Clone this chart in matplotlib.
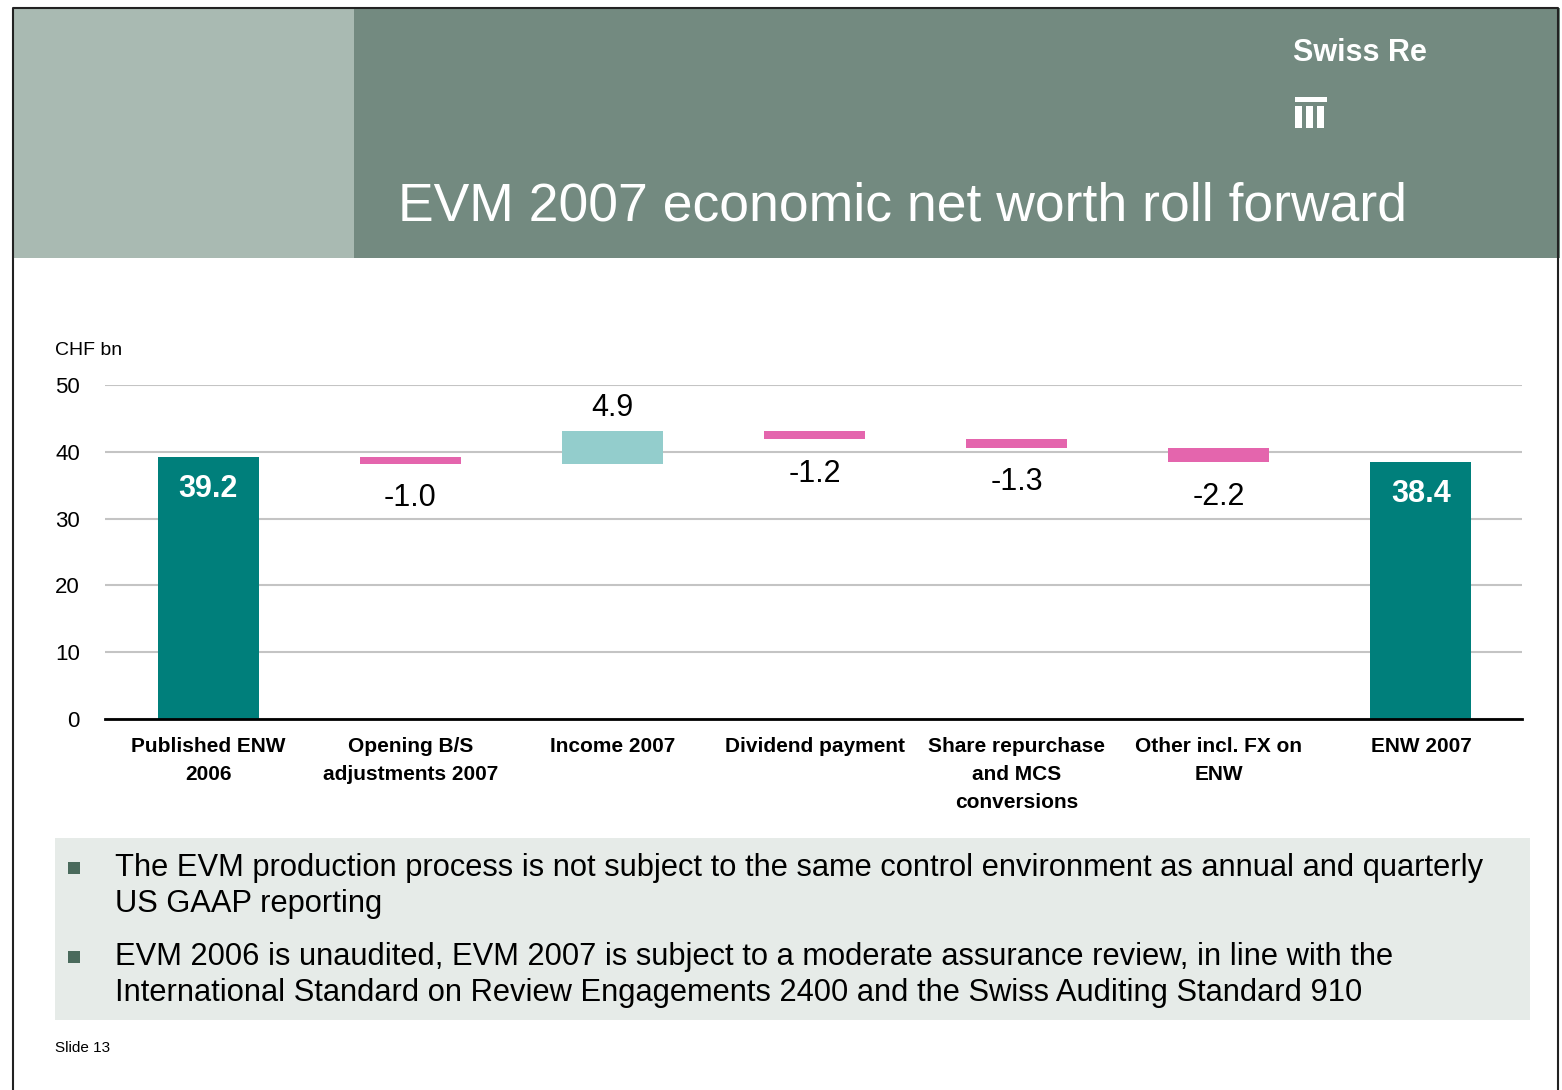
import matplotlib.pyplot as plt
from matplotlib.patches import Rectangle
import numpy as np

# data
categories = ['Published ENW\n2006', 'Opening B/S\nadjustments 2007', 'Income 2007',
              'Dividend payment', 'Share repurchase\nand MCS\nconversions',
              'Other incl. FX on\nENW', 'ENW 2007']
values = [39.2, -1.0, 4.9, -1.2, -1.3, -2.2, 38.4]
is_total = [True, False, False, False, False, False, True]
y_ticks = [0, 10, 20, 30, 40, 50]

bullets = [
    'The EVM production process is not subject to the same control environment as annual and quarterly\nUS GAAP reporting',
    'EVM 2006 is unaudited, EVM 2007 is subject to a moderate assurance review, in line with the\nInternational Standard on Review Engagements 2400 and the Swiss Auditing Standard 910',
]

TEAL = '#007f7b'
PINK = '#e465ad'
LIGHT_TEAL = '#93cdcc'
plt.rcParams['font.family'] = ['Liberation Sans', 'DejaVu Sans']

W, H = 1562, 1090
fig = plt.figure(figsize=(W / 100, H / 100), dpi=100)


def fx(px):
    return px / W


def fy(py):
    return 1 - py / H


def frect(x0, y0, x1, y1, **kw):
    # rectangle in pixel coords (top-left origin)
    fig.patches.append(Rectangle((fx(x0), fy(y1)), fx(x1) - fx(x0), fy(y0) - fy(y1),
                                 transform=fig.transFigure, **kw))


# header
frect(13, 8, 354, 258, color='#a9bab2', lw=0)
frect(354, 8, 1560, 258, color='#738a80', lw=0)
fig.lines.append(plt.Line2D([fx(13), fx(13), fx(1558), fx(1558)],
                            [fy(1090), fy(8), fy(8), fy(1090)],
                            transform=fig.transFigure, color='#222222', lw=1.5))
fig.text(fx(398), fy(206), 'EVM 2007 economic net worth roll forward', color='white',
         fontsize=38.5, va='center', ha='left')
fig.text(fx(1293), fy(53), 'Swiss Re', color='white', fontsize=22, fontweight='bold',
         va='center', ha='left')
# logo
frect(1295, 97, 1327, 102, color='white', lw=0)
for lx in [1295, 1306, 1317]:
    frect(lx, 106, lx + 7, 128, color='white', lw=0)

# chart
ax = fig.add_axes([fx(105), fy(719), fx(1522) - fx(105), fy(385) - fy(719)])
x = np.arange(len(categories))
running = 0.0
for i, (v, tot) in enumerate(zip(values, is_total)):
    if tot:
        bottom, height, color = 0, v, TEAL
        running = v
    else:
        if v < 0:
            bottom, height, color = running + v, -v, PINK
        else:
            bottom, height, color = running, v, LIGHT_TEAL
        running += v
    ax.bar(x[i], height, bottom=bottom, width=0.5, color=color, zorder=3)
    top = bottom + height
    if tot:
        ax.annotate(f'{v:.1f}', (x[i], top), xytext=(0, -12), textcoords='offset points',
                    ha='center', va='top', color='white', fontsize=22, fontweight='bold')
    elif v < 0:
        ax.annotate(f'{v:.1f}', (x[i], bottom), xytext=(0, -14), textcoords='offset points',
                    ha='center', va='top', color='black', fontsize=22)
    else:
        ax.annotate(f'{v:.1f}', (x[i], top), xytext=(0, 6), textcoords='offset points',
                    ha='center', va='bottom', color='black', fontsize=22)

ax.set_xlim(-0.51, 6.5)
ax.set_ylim(0, 50)
ax.set_yticks(y_ticks)
ax.set_yticklabels([str(t) for t in y_ticks], fontsize=16)
ax.set_xticks(x)
ax.set_xticklabels(categories, fontsize=15, fontweight='bold', linespacing=1.6)
ax.tick_params(axis='x', length=0, pad=13)
ax.tick_params(axis='y', length=0, pad=18)
ax.grid(axis='y', color='#c4c4c4', lw=1.5, zorder=0)
for s in ['top', 'right', 'left']:
    ax.spines[s].set_visible(False)
ax.spines['bottom'].set_linewidth(2)
ax.spines['bottom'].set_zorder(4)
fig.text(fx(55), fy(350), 'CHF bn', fontsize=14, va='center', ha='left')

# notes box
frect(55, 838, 1530, 1020, color='#e6ebe8', lw=0)
for txt, ytop in zip(bullets, [853, 942]):
    frect(68, ytop + 9, 80, ytop + 21, color='#4a6a5c', lw=0)
    fig.text(fx(115), fy(ytop), txt, fontsize=22.2, va='top', ha='left', linespacing=1.28)
fig.text(fx(55), fy(1048), 'Slide 13', fontsize=11, va='center', ha='left')

plt.savefig('out.png', dpi=100)
